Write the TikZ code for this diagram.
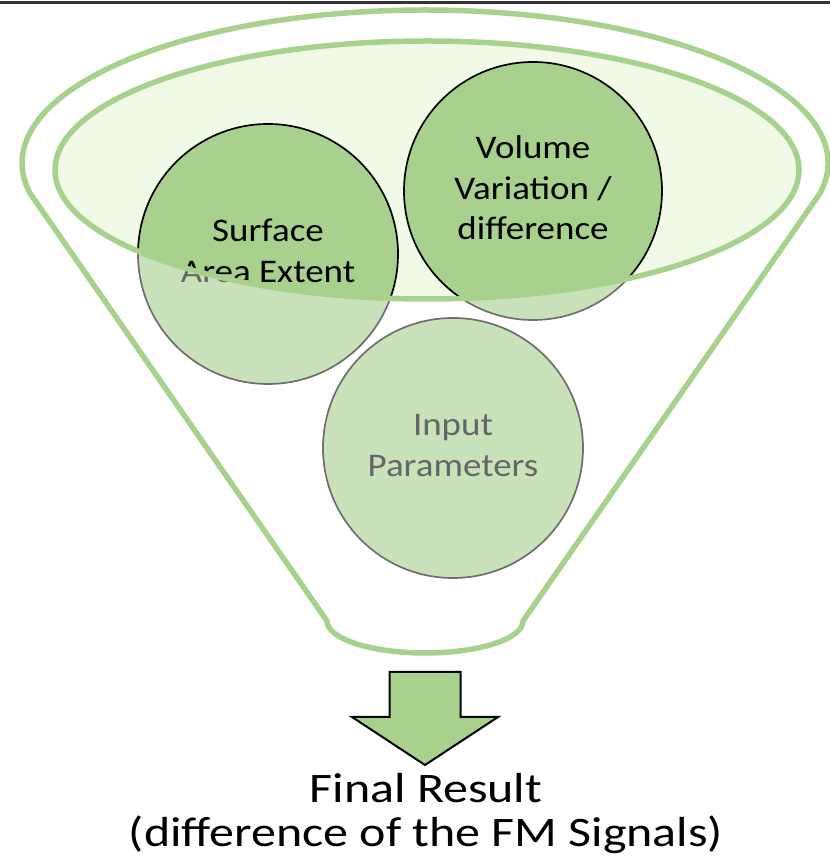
\documentclass[tikz,border=0pt]{standalone}
\usepackage{fontspec}
\setmainfont{Carlito}
\definecolor{dkgreen}{HTML}{A9D18E}
\definecolor{ltgreen}{HTML}{C9E2B9}
\definecolor{elfill}{HTML}{F1FAE6}
\definecolor{ltline}{HTML}{6E6E6E}
\definecolor{lttext}{HTML}{666666}
\newcommand{\widebox}[2]{\scalebox{#1}[1]{#2}}
\tikzset{
  funnelline/.style={draw=dkgreen, line width=5.5pt, line join=round},
  ballLight/.style={circle, inner sep=0pt, fill=ltgreen, draw=ltline, line width=1.7pt},
  ballDark/.style={circle, inner sep=0pt, fill=dkgreen, draw=black, line width=1.7pt},
  balltext/.style={anchor=base, inner sep=0pt, font=\fontsize{33}{38}\selectfont},
  finaltext/.style={anchor=base, inner sep=0pt, font=\fontsize{42}{43}\selectfont},
  arrowshape/.style={fill=dkgreen, draw=black, line width=2pt, line join=miter}
}
\begin{document}
\begin{tikzpicture}[x=1pt, y=1pt]
\useasboundingbox (0,0) rectangle (830,865);
% top rule
\draw[black!80, line width=3pt] (0,862.5) -- (830,862.5);
% outer funnel
\draw[funnelline] (425,702) ++(-11.3:403 and 153) arc[start angle=-11.3, end angle=191.3, x radius=403, y radius=153]
  -- (327,244) arc[start angle=180, end angle=360, x radius=98, y radius=32] -- cycle;
% light (outside) circles
\node[ballLight, minimum size=260pt] (surf) at (268,611) {};
\node[ballLight, minimum size=258pt] (vol) at (533,674) {};
\node[ballLight, minimum size=260pt] (inp) at (453,417) {};
\node[balltext, text=lttext] (surfA) at (268,623) {\widebox{1.12}{Surface}};
\node[balltext, text=lttext] (surfB) at (268,582) {\widebox{1.12}{Area Extent}};
\node[balltext, text=lttext] (volA) at (533,706) {\widebox{1.12}{Volume}};
\node[balltext, text=lttext] (volB) at (533,665.5) {\widebox{1.12}{Variation /}};
\node[balltext, text=lttext] (volC) at (533,625) {\widebox{1.12}{difference}};
\node[balltext, text=lttext] (inpA) at (453,429) {\widebox{1.12}{Input}};
\node[balltext, text=lttext] (inpB) at (453,388) {\widebox{1.12}{Parameters}};
% inner ellipse fill
\fill[elfill] (427,695) ellipse[x radius=372, y radius=129];
% dark circles clipped to the ellipse
\begin{scope}
  \clip (427,695) ellipse[x radius=372, y radius=129];
  \node[ballDark, minimum size=260pt] (surfIn) at (268,611) {};
  \node[ballDark, minimum size=258pt] (volIn) at (533,674) {};
  \node[balltext, text=black] (surfAIn) at (268,623) {\widebox{1.12}{Surface}};
  \node[balltext, text=black] (surfBIn) at (268,582) {\widebox{1.12}{Area Extent}};
  \node[balltext, text=black] (volAIn) at (533,706) {\widebox{1.12}{Volume}};
  \node[balltext, text=black] (volBIn) at (533,665.5) {\widebox{1.12}{Variation /}};
  \node[balltext, text=black] (volCIn) at (533,625) {\widebox{1.12}{difference}};
\end{scope}
% ellipse outline
\draw[funnelline] (427,695) ellipse[x radius=372, y radius=129];
% arrow
\draw[arrowshape] (389.5,193) -- (460.5,193) -- (460.5,148) -- (498,148) -- (425,100) -- (352,148) -- (389.5,148) -- cycle;
% result text
\node[finaltext] (resA) at (426,62) {\widebox{1.19}{Final Result}};
\node[finaltext] (resB) at (426,19) {\widebox{1.19}{(difference of the FM Signals)}};
\end{tikzpicture}
\end{document}
